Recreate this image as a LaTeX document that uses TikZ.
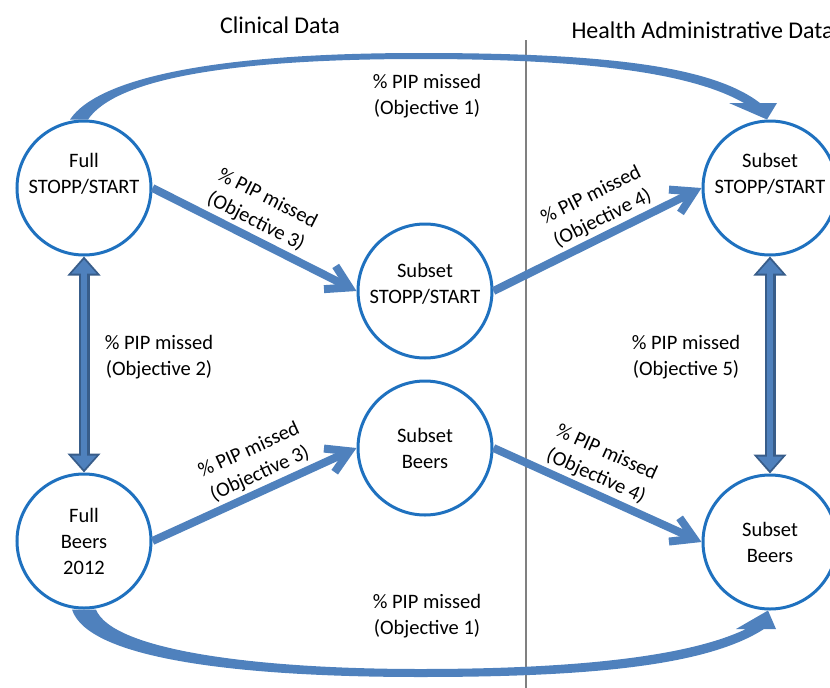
\documentclass[tikz,border=0pt]{standalone}
\usepackage{fontspec}
\setmainfont{Carlito}
\usepackage{tikz}
\usetikzlibrary{arrows.meta}
\usetikzlibrary{positioning}
\usetikzlibrary{calc}

\definecolor{circblue}{RGB}{31,113,191}
\definecolor{arrowblue}{RGB}{79,129,189}
\definecolor{darkblue}{RGB}{56,93,138}

\begin{document}
\begin{tikzpicture}
		[x=1pt,y=-1pt,
		every node/.style={font=\fontsize{20.5}{26}\selectfont},
		set/.style={circle,draw=circblue,line width=3pt,minimum size=134pt,inner sep=0pt,align=center},
		lift/.style={text height=40pt,text depth=#1},
		flow/.style={draw=arrowblue,line width=8pt,-{Straight Barb[length=22pt,width=26pt]}},
		twoway/.style={draw=darkblue,line width=11pt,{Triangle[length=19pt,width=32pt]}-{Triangle[length=19pt,width=32pt]}},
		twowayin/.style={draw=arrowblue,line width=6pt,shorten <=3pt,shorten >=3pt,{Triangle[length=14pt,width=24pt]}-{Triangle[length=14pt,width=24pt]}},
		lbl/.style={align=center},
		head/.style={font=\fontsize{24}{28}\selectfont}]
		\useasboundingbox (0,0) rectangle (830,688);
		
		% column titles and divider
		\node[head] (clin) at (280,25) {Clinical Data};
		\node[head,anchor=west] (admin) at (568,30) {Health Administrative Data};
		\coordinate (divtop) at (526,40);
		\coordinate (divbot) at (526,688);
		\draw[gray,line width=1.5pt] (divtop) -- (divbot);
		
		\node[set,lift=30pt] (fss) at (84,188) {Full\\STOPP/START};
		\node[set] (fb) at (84,541) {Full\\Beers\\2012};
		\node[set,lift=16pt] (mss) at (425,291) {Subset\\STOPP/START};
		\node[set] (mb) at (425,448) {Subset\\Beers};
		\node[set,lift=30pt] (rss) at (770,188) {Subset\\STOPP/START};
		\node[set] (rb) at (770,542) {Subset\\Beers};
		
		% objective 1 (curved)
		\fill[arrowblue] ($(fss.north)+(-14,0)$) .. controls (98,78) and (215,53) .. (420,53)
		  .. controls (605,53) and (712,66) .. (760,103) -- (777,103) -- ($(rss.north)+(-3,0)$)
		  -- (729,103) -- (744,103) .. controls (695,75) and (598,59) .. (420,59)
		  .. controls (225,59) and (115,80) .. ($(fss.north)+(4,0)$) -- cycle;
		\fill[arrowblue] ($(fb.south)+(-12,0)$) .. controls (88,660) and (245,677) .. (420,677)
		  .. controls (595,677) and (708,665) .. (764,629) -- (776,629) -- ($(rb.south)+(-2,0)$)
		  -- (736,629) -- (746,629) .. controls (692,655) and (585,669) .. (420,669)
		  .. controls (255,669) and (112,650) .. ($(fb.south)+(12,0)$) -- cycle;
		\node[lbl] (o1a) at (427,96) {\% PIP missed\\(Objective 1)};
		\node[lbl] (o1b) at (427,616) {\% PIP missed\\(Objective 1)};
		
		% objectives 2 and 5
		\foreach \from/\to in {fss/fb, rss/rb}
		{\draw[twoway] (\from.south) -- (\to.north);
		 \draw[twowayin] (\from.south) -- (\to.north);}
		\node[lbl] (o2) at (159,357) {\% PIP missed\\(Objective 2)};
		\node[lbl] (o5) at (686,357) {\% PIP missed\\(Objective 5)};
		
		% objectives 3 and 4
		\draw[flow] (fss.east) -- node[lbl,above,sloped,pos=.47] (o3a) {\% PIP missed\\(Objective 3)} (mss.west);
		\draw[flow] (fb.east) -- node[lbl,above,sloped,pos=.56] (o3b) {\% PIP missed\\(Objective 3)} (mb.west);
		\draw[flow] (mss.east) -- node[lbl,above,sloped,pos=.56] (o4a) {\% PIP missed\\(Objective 4)} (rss.west);
		\draw[flow] (mb.east) -- node[lbl,above,sloped,pos=.46] (o4b) {\% PIP missed\\(Objective 4)} (rb.west);
\end{tikzpicture}
\end{document}
